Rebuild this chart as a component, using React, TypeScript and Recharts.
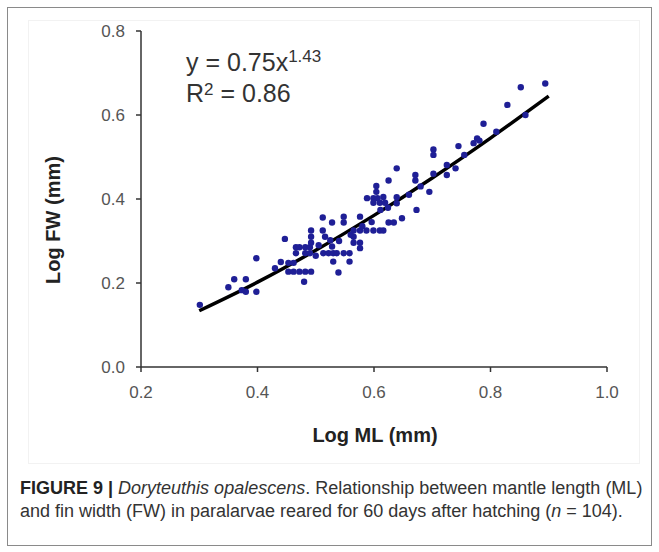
import React from "react";
import { ComposedChart, Scatter, Line, XAxis, YAxis } from "recharts";

// Log ML (mm) of each paralarva
const mlValues = [
  0.301, 0.36, 0.38, 0.373, 0.38, 0.398, 0.398, 0.447, 0.453, 0.462,
  0.453, 0.462, 0.472, 0.482, 0.492, 0.48, 0.466, 0.472, 0.482, 0.49,
  0.466, 0.482, 0.49, 0.492, 0.492, 0.492, 0.512, 0.512, 0.513, 0.522,
  0.53, 0.516, 0.525, 0.528, 0.528, 0.53, 0.539, 0.536, 0.548, 0.558,
  0.558, 0.548, 0.548, 0.565, 0.565, 0.565, 0.576, 0.576, 0.576, 0.576,
  0.587, 0.599, 0.61, 0.616, 0.588, 0.599, 0.606, 0.604, 0.604, 0.599,
  0.61, 0.619, 0.616, 0.625, 0.625, 0.634, 0.639, 0.639, 0.639, 0.648,
  0.671, 0.671, 0.673, 0.695, 0.702, 0.702, 0.702, 0.725, 0.725, 0.74,
  0.745, 0.771, 0.777, 0.781, 0.788, 0.829, 0.852, 0.894, 0.611, 0.624,
  0.505, 0.43, 0.35, 0.56, 0.58, 0.66, 0.68, 0.755, 0.81, 0.5,
  0.54, 0.44, 0.596, 0.86,
];

// Log FW (mm) of each paralarva
const fwValues = [
  0.148, 0.209, 0.209, 0.183, 0.179, 0.259, 0.179, 0.305, 0.248, 0.248,
  0.227, 0.227, 0.227, 0.227, 0.227, 0.203, 0.285, 0.285, 0.285, 0.285,
  0.271, 0.271, 0.271, 0.325, 0.31, 0.296, 0.356, 0.325, 0.271, 0.271,
  0.271, 0.31, 0.302, 0.344, 0.287, 0.251, 0.225, 0.271, 0.271, 0.271,
  0.251, 0.358, 0.344, 0.325, 0.31, 0.296, 0.358, 0.325, 0.296, 0.283,
  0.325, 0.325, 0.325, 0.325, 0.402, 0.402, 0.402, 0.431, 0.417, 0.391,
  0.391, 0.391, 0.405, 0.444, 0.344, 0.344, 0.473, 0.39, 0.404, 0.354,
  0.457, 0.444, 0.374, 0.417, 0.518, 0.505, 0.46, 0.481, 0.457, 0.473,
  0.526, 0.533, 0.544, 0.539, 0.579, 0.624, 0.666, 0.675, 0.374, 0.379,
  0.29, 0.235, 0.19, 0.315, 0.335, 0.41, 0.43, 0.505, 0.56, 0.265,
  0.3, 0.25, 0.345, 0.6,
];

// fitted curve
const fitMl = [0.3, 0.4, 0.5, 0.6, 0.7, 0.8, 0.9];
const fitFw = [0.134, 0.202, 0.278, 0.361, 0.45, 0.545, 0.645];

const xTicks = [0.2, 0.4, 0.6, 0.8, 1.0];
const yTicks = [0, 0.2, 0.4, 0.6, 0.8];

const points = mlValues.map((ml, i) => ({ ml, fw: fwValues[i] }));
const fit = fitMl.map((ml, i) => ({ ml, fw: fitFw[i] }));

const dot = (p: any) => <circle cx={p.cx} cy={p.cy} r={3.2} fill="#1f1f96" />;

export default function App() {
  const tickStyle = { fontSize: 17, fill: "#555", fontFamily: "Liberation Sans, Arial, sans-serif" };
  return (
    <div
      style={{
        position: "absolute",
        left: 0,
        top: 0,
        width: 659,
        height: 552,
        background: "#fff",
        fontFamily: "Liberation Sans, Arial, sans-serif",
      }}
    >
      <div
        style={{
          position: "absolute",
          left: 7,
          top: 7,
          width: 643,
          height: 537,
          border: "1px solid #8a8a8a",
        }}
      />
      <div
        style={{
          position: "absolute",
          left: 28,
          top: 20,
          width: 610,
          height: 442,
          border: "1px solid #f2f2f2",
        }}
      />
      <div style={{ position: "absolute", left: 0, top: 0 }}>
        <ComposedChart width={659} height={470} margin={{ top: 31, right: 52, left: 81, bottom: 73 }}>
          <XAxis
            type="number"
            dataKey="ml"
            domain={[0.2, 1.0]}
            ticks={xTicks}
            tickFormatter={(v: number) => v.toFixed(1)}
            height={30}
            tickSize={5}
            tickMargin={14}
            stroke="#333"
            strokeWidth={1.5}
            tick={tickStyle}
            allowDataOverflow
          />
          <YAxis
            type="number"
            domain={[0, 0.8]}
            ticks={yTicks}
            tickFormatter={(v: number) => v.toFixed(1)}
            width={60}
            tickSize={5}
            tickMargin={11}
            stroke="#333"
            strokeWidth={1.5}
            tick={tickStyle}
            allowDataOverflow
          />
          <Scatter data={points} dataKey="fw" shape={dot} isAnimationActive={false} />
          <Line
            data={fit}
            dataKey="fw"
            type="monotone"
            stroke="#000"
            strokeWidth={3.5}
            dot={false}
            activeDot={false}
            isAnimationActive={false}
          />
        </ComposedChart>
      </div>
      <div style={{ position: "absolute", left: 186, top: 42, fontSize: 25, color: "#333", lineHeight: "30px" }}>
        y = 0.75x<sup style={{ fontSize: 17, verticalAlign: "9px" }}>1.43</sup>
      </div>
      <div style={{ position: "absolute", left: 186, top: 75, fontSize: 25, color: "#333", lineHeight: "30px" }}>
        R<sup style={{ fontSize: 17, verticalAlign: "7px" }}>2</sup> = 0.86
      </div>
      <div
        style={{
          position: "absolute",
          left: 275,
          width: 200,
          top: 424,
          textAlign: "center",
          fontSize: 20,
          fontWeight: "bold",
          color: "#222",
        }}
      >
        Log ML (mm)
      </div>
      <div
        style={{
          position: "absolute",
          left: 53 - 100,
          top: 220 - 14,
          width: 200,
          height: 28,
          lineHeight: "28px",
          textAlign: "center",
          fontSize: 20,
          fontWeight: "bold",
          color: "#222",
          transform: "rotate(-90deg)",
        }}
      >
        Log FW (mm)
      </div>
      <div style={{ position: "absolute", left: 20, top: 477, fontSize: 18, color: "#333", lineHeight: "23px", whiteSpace: "nowrap" }}>
        <div>
          <b style={{ color: "#222" }}>FIGURE 9 |</b> <i>Doryteuthis opalescens</i>. Relationship between mantle length (ML)
        </div>
        <div>
          and fin width (FW) in paralarvae reared for 60 days after hatching (<i>n</i> = 104).
        </div>
      </div>
    </div>
  );
}
